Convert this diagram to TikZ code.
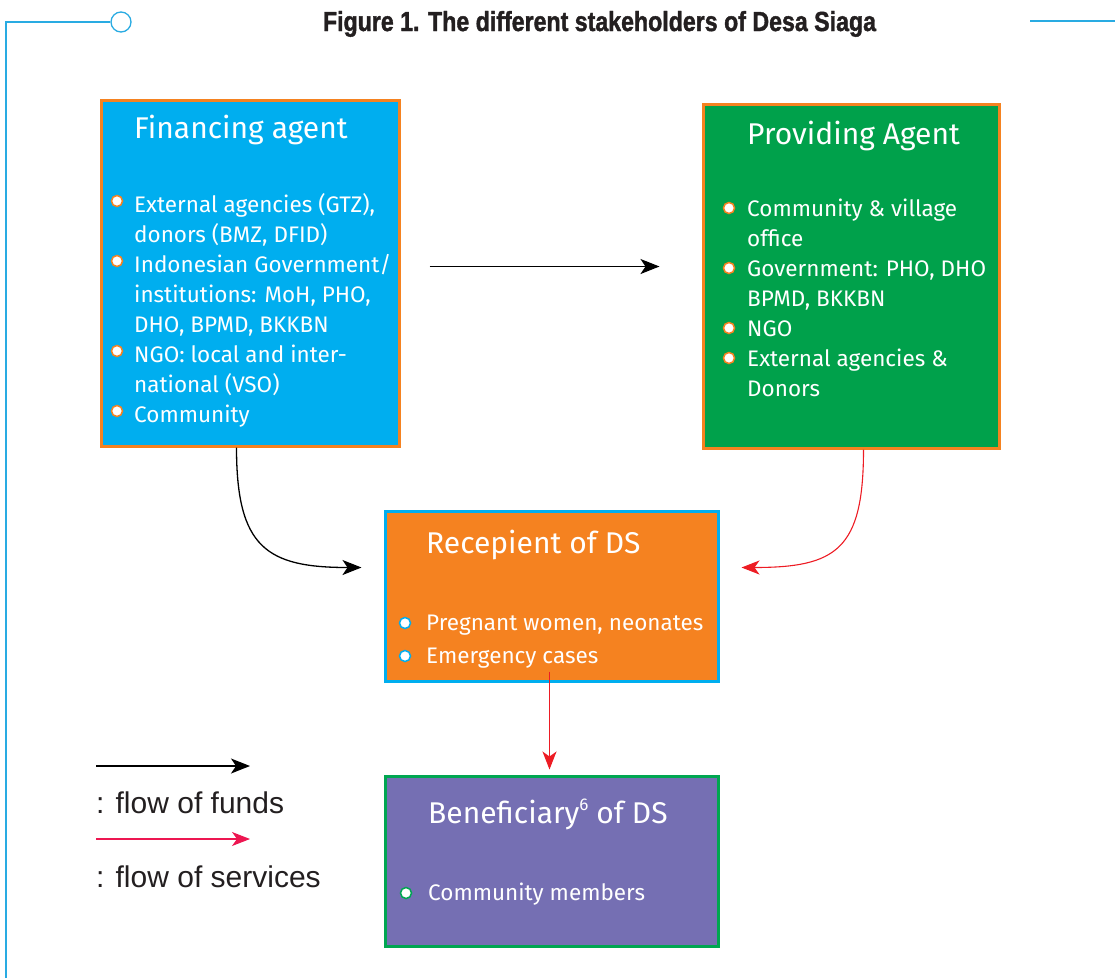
\documentclass[tikz,border=0pt]{standalone}
\usepackage{fontspec}
\usepackage{graphicx}
\setmainfont{Liberation Sans}
\newfontfamily\boxfont{Fira Sans}
\newfontfamily\titlefont{Liberation Sans}[BoldFeatures={FakeBold=1.6}]
\usetikzlibrary{arrows.meta,calc,positioning}
\definecolor{Sky}{HTML}{00AEEF}
\definecolor{Leaf}{HTML}{00A14B}
\definecolor{Amber}{HTML}{F58220}
\definecolor{Violet}{HTML}{756FB3}
\definecolor{Edge}{HTML}{00A651}
\definecolor{Scarlet}{HTML}{ED1C24}
\definecolor{Rose}{HTML}{ED1651}
\definecolor{Frame}{HTML}{29ABE2}
\definecolor{Ink}{HTML}{231F20}
\tikzset{
  stakebox/.style={
    draw, line width=3pt, anchor=north west, inner sep=0pt
  },
  heading/.style={
    anchor=base west, inner sep=0pt, text=white,
    font=\boxfont\fontsize{30}{31}\selectfont
  },
  entry/.style={
    anchor=base west, inner sep=0pt, text=white,
    font=\boxfont\fontsize{22.5}{30}\selectfont
  },
  dot/.style={
    circle, fill=white, draw=#1, line width=1.5pt,
    minimum size=11pt, inner sep=0pt
  },
  legend/.style={
    anchor=base west, inner sep=0pt, text=Ink,
    font=\fontsize{30}{32}\selectfont
  },
  funds/.style={-{Stealth[length=19pt,width=15pt,inset=5pt]}, line width=1.3pt, draw=black},
  services/.style={-{Stealth[length=18pt,width=14pt,inset=5pt]}, line width=1.1pt, draw=Scarlet}
}
\newcommand{\noteno}[1]{\raisebox{13pt}{\fontsize{17}{17}\selectfont #1}}

\begin{document}
\begin{tikzpicture}[x=1pt,y=-1pt]
  \useasboundingbox (0,0) rectangle (1115,978);
  % page frame
  \node[circle,draw=Frame,line width=1.3pt,fill=white,minimum size=20pt,inner sep=0pt] (ring) at (121,22) {};
  \draw[Frame,line width=1.3pt] (6,978) |- (ring.west);
  \draw[Frame,line width=1.3pt] (1030,21) -- (1115,21);
  \node[anchor=base,inner sep=0pt,text=Ink] (title) at (599.5,31)
    {\resizebox{553pt}{20pt}{\titlefont\bfseries Figure 1. The different stakeholders of Desa Siaga}};

  % the four stakeholders
  \node[stakebox,draw=Amber,fill=Sky,minimum width=298pt,minimum height=346pt] (fin) at (99.5,98.5) {};
  \node[stakebox,draw=Amber,fill=Leaf,minimum width=296pt,minimum height=344pt] (prov) at (701.5,102.5) {};
  \node[stakebox,draw=Sky,fill=Amber,minimum width=333pt,minimum height=170pt] (rec) at (383.5,509.5) {};
  \node[stakebox,draw=Edge,fill=Violet,minimum width=333pt,minimum height=170pt] (ben) at (383.5,774.5) {};

  \node[heading] (fin-title) at (134,138) {Financing agent};
  \node[heading] (prov-title) at (747,144) {Providing Agent};
  \node[heading] (rec-title) at (426,553) {Recepient of DS};
  \node[heading] (ben-title) at (428,823) {Beneficiary\noteno{6} of DS};

  \foreach \b/\txt [count=\i from 0] in {1/{External agencies (GTZ),},0/{donors (BMZ, DFID)},
      1/{Indonesian Government/},0/{institutions: MoH, PHO,},0/{DHO, BPMD, BKKBN},
      1/{NGO: local and inter-},0/{national (VSO)},1/{Community}}{
    \node[entry] (fin-\i) at (134,{212+30*\i}) {\txt};
    \ifnum\b=1 \node[dot=Amber] (fin-b\i) at ([shift={(-17,-11)}]fin-\i.base west) {}; \fi
  }
  \foreach \b/\txt [count=\i from 0] in {1/{Community \& village},0/{office},
      1/{Government: PHO, DHO},0/{BPMD, BKKBN},1/{NGO},
      1/{External agencies \&},0/{Donors}}{
    \node[entry] (prov-\i) at (747,{216+30*\i}) {\txt};
    \ifnum\b=1 \node[dot=Amber] (prov-b\i) at ([shift={(-18,-8)}]prov-\i.base west) {}; \fi
  }
  \foreach \txt [count=\i from 0] in {{Pregnant women, neonates},{Emergency cases}}{
    \node[entry] (rec-\i) at (426,{630+33*\i}) {\txt};
    \node[dot=Sky] (rec-b\i) at ([shift={(-21,-7)}]rec-\i.base west) {};
  }
  \node[entry] (ben-0) at (428,900) {Community members};
  \node[dot=Edge] (ben-b0) at ([shift={(-22,-7)}]ben-0.base west) {};

  % flows between them
  \draw[funds] ([shift={(29,-6.5)}]fin.east) -- ([shift={(-42,-9.5)}]prov.west);
  \draw[funds] ([xshift=-13.5pt]fin.south) .. controls +(0,100) and +(-95,0) .. ([shift={(-22,-28.5)}]rec.west);
  \draw[services] ([xshift=12.5pt]prov.south) .. controls +(0,100) and +(95,0) .. ([shift={(22,-28.5)}]rec.east);
  \draw[services] ([shift={(-2,-11)}]rec.south) -- ([shift={(-2,-5)}]ben.north);

  % key
  \coordinate (key-fa) at (96,766);
  \coordinate (key-fb) at (250,766);
  \coordinate (key-sa) at (96,839);
  \coordinate (key-sb) at (250,839);
  \draw[funds] (key-fa) -- (key-fb);
  \draw[services,draw=Rose] (key-sa) -- (key-sb);
  \node[legend] (key-funds) at (96,813) {: flow of funds};
  \node[legend] (key-services) at (96,887) {: flow of services};
\end{tikzpicture}
\end{document}
